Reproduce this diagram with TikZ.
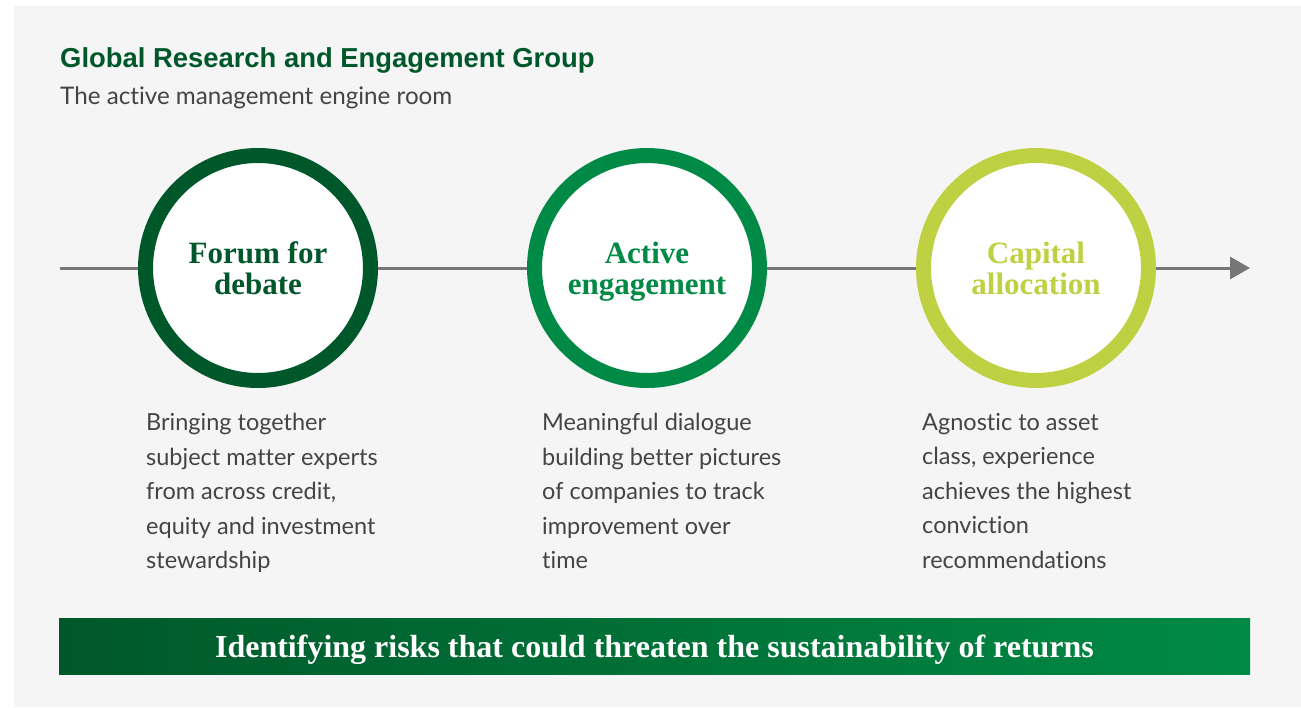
\documentclass[tikz,border=0pt]{standalone}
\usepackage{fontspec}
\setmainfont{Lato}[Ligatures = NoCommon]
\newfontfamily\headfont{Liberation Sans}
\newfontfamily\serffont{Liberation Serif}
\usetikzlibrary{arrows.meta}
\definecolor{bggray}{HTML}{F5F5F5}
\definecolor{txtgray}{HTML}{444444}
\definecolor{linegray}{HTML}{767676}
\definecolor{darkgreen}{HTML}{00582A}
\definecolor{midgreen}{HTML}{008A45}
\definecolor{limegreen}{HTML}{BDD142}
\begin{document}
\begin{tikzpicture}[x = 1pt, y = -1pt,
    ring/.style = { draw, circle, fill = white, line width = 15pt, minimum size = 225pt, inner sep = 0pt, outer sep = 7.5pt, align = center, text depth = 0pt, font = \serffont\bfseries\fontsize{31}{31.5}\selectfont },
    desc/.style = { anchor = north west, inner sep = 0pt, align = left, text = txtgray, font = \fontsize{23.5}{34.5}\selectfont },
    flow/.style = { draw = linegray, line width = 3pt }]
				\useasboundingbox (0,0) rectangle (1301,707);
				\fill[bggray] (14,6) rectangle (1301,707);
				\node[anchor = base west, inner sep = 0pt, text = darkgreen, font = \headfont\bfseries\fontsize{27.4}{30}\selectfont] (title) at (60,67) {Global Research and Engagement Group};
				\node[anchor = base west, inner sep = 0pt, text = txtgray, font = \fontsize{24.2}{26}\selectfont] (sub) at (60,104) {The active management engine room};
				\coordinate (start) at (60,268);
				\coordinate (end) at (1250,268);
				\node[ring, draw = darkgreen, text = darkgreen] (a) at (258,268) {Forum for \\ debate};
				\node[ring, draw = midgreen, text = midgreen] (b) at (647,268) {Active \\ engagement};
				\node[ring, draw = limegreen, text = limegreen] (c) at (1036,268) {Capital \\ allocation};
				\draw[flow] (start) -- (a);
				\draw[flow] (a) -- (b);
				\draw[flow] (b) -- (c);
				\draw[flow, -{Triangle[length = 20pt, width = 22pt]}] (c) -- (end);
				\node[desc] (da) at (146,413) {Bringing together \\ subject matter experts \\ from across credit, \\ equity and investment \\ stewardship};
				\node[desc] (db) at (542,413) {Meaningful dialogue \\ building better pictures \\ of companies to track \\ improvement over \\ time};
				\node[desc] (dc) at (922,413) {Agnostic to asset \\ class, experience \\ achieves the highest \\ conviction \\ recommendations};
				\node[minimum width = 1191pt, minimum height = 56pt, inner sep = 0pt, left color = darkgreen, right color = midgreen, text = white, text depth = 0pt, font = \serffont\bfseries\fontsize{32}{34}\selectfont] (banner) at (654.5,646) {Identifying risks that could threaten the sustainability of returns};
			\end{tikzpicture}
\end{document}
